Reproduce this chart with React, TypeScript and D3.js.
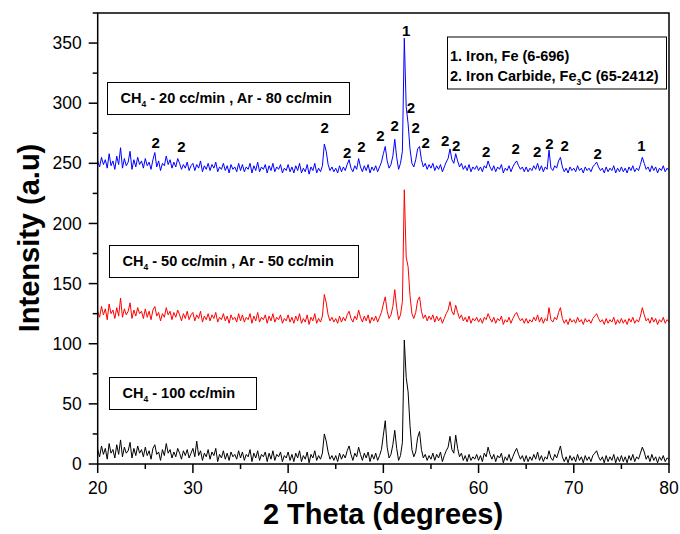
import * as d3 from "d3";

// diffraction scan, sampled every 0.2 degrees from 20 to 80
const THETA_START = 20;
const THETA_STEP = 0.2;

const blueCounts = [
  252, 247, 255, 249, 253, 246, 258, 248, 252, 245, 256, 249, 263, 246, 254, 248, 251, 260, 245, 253, 247, 255, 249, 252, 246,
  254, 248, 251, 245, 253, 259, 247, 252, 244, 250, 248, 256, 249, 253, 246, 251, 247, 254, 250, 245, 249, 246, 251, 244, 248,
  250, 244, 249, 246, 252, 243, 248, 245, 250, 244, 249, 246, 251, 243, 247, 245, 250, 244, 248, 242, 249, 245, 247, 243, 250,
  244, 249, 243, 247, 245, 250, 242, 248, 244, 251, 243, 247, 245, 249, 242, 248, 244, 250, 243, 247, 245, 249, 242, 246, 244,
  249, 243, 247, 242, 248, 244, 250, 242, 246, 243, 249, 241, 247, 244, 250, 242, 246, 243, 248, 266, 260, 249, 244, 247, 243,
  246, 242, 248, 243, 247, 244, 249, 253, 246, 243, 248, 245, 254, 247, 243, 248, 244, 249, 242, 247, 244, 248, 243, 247, 251,
  258, 264, 252, 246, 249, 256, 270, 255, 245, 250, 260, 354, 297, 283, 262, 250, 247, 253, 262, 264, 253, 247, 250, 245, 249,
  246, 250, 244, 248, 245, 249, 243, 247, 251, 254, 262, 253, 250, 258, 252, 247, 250, 245, 248, 244, 249, 243, 247, 245, 248,
  244, 247, 243, 248, 246, 252, 247, 244, 248, 243, 247, 245, 249, 242, 246, 244, 248, 243, 247, 250, 252, 248, 245, 247, 243,
  247, 243, 246, 244, 248, 245, 250, 244, 248, 243, 247, 245, 261, 246, 244, 248, 246, 252, 255, 247, 243, 246, 242, 247, 244,
  246, 243, 248, 244, 246, 242, 247, 244, 246, 243, 247, 249, 251, 247, 244, 246, 242, 247, 243, 246, 244, 248, 242, 246, 243,
  247, 243, 246, 242, 247, 244, 248, 243, 246, 244, 249, 255, 250, 245, 247, 243, 248, 244, 247, 242, 246, 244, 248, 243, 246,
  244,
];

const redCounts = [
  127, 122, 131, 124, 129, 120, 133, 125, 128, 121, 130, 123, 138, 122, 129, 124, 127, 134, 121, 128, 123, 130, 125, 127, 121,
  129, 122, 127, 120, 128, 131, 123, 126, 119, 125, 122, 130, 124, 127, 120, 126, 122, 128, 124, 119, 125, 121, 127, 120, 124,
  126, 119, 124, 121, 127, 118, 123, 120, 125, 119, 124, 121, 126, 118, 122, 120, 125, 119, 123, 117, 124, 120, 122, 118, 125,
  119, 124, 118, 122, 120, 125, 117, 123, 119, 126, 118, 122, 120, 124, 117, 123, 119, 125, 118, 122, 120, 124, 117, 121, 119,
  124, 118, 122, 117, 123, 119, 125, 117, 121, 118, 124, 116, 122, 119, 125, 117, 121, 118, 123, 141, 134, 124, 119, 122, 118,
  121, 117, 123, 118, 122, 119, 124, 127, 121, 118, 123, 120, 128, 122, 118, 123, 119, 124, 117, 122, 119, 123, 118, 122, 126,
  133, 139, 127, 121, 124, 131, 145, 130, 120, 124, 135, 228, 172, 164, 140, 125, 121, 126, 136, 139, 127, 121, 124, 119, 123,
  120, 124, 118, 123, 119, 122, 117, 121, 125, 128, 135, 127, 124, 132, 126, 121, 124, 119, 122, 118, 123, 117, 121, 119, 122,
  118, 121, 117, 122, 120, 125, 121, 118, 122, 117, 121, 119, 123, 116, 120, 118, 122, 117, 121, 124, 126, 122, 119, 121, 117,
  121, 117, 120, 118, 122, 119, 124, 118, 122, 117, 121, 119, 130, 120, 118, 122, 120, 126, 130, 121, 117, 120, 116, 121, 118,
  120, 117, 122, 118, 120, 116, 121, 118, 120, 117, 121, 123, 125, 121, 118, 120, 116, 121, 117, 120, 118, 122, 116, 120, 117,
  121, 117, 120, 116, 121, 118, 122, 117, 120, 118, 123, 130, 124, 119, 121, 117, 122, 118, 121, 116, 120, 118, 122, 117, 120,
  118,
];

const blackCounts = [
  12, 6, 15, 8, 13, 4, 17, 9, 12, 5, 16, 8, 20, 6, 14, 9, 11, 18, 5, 13, 7, 15, 9, 12, 6,
  14, 7, 11, 4, 13, 16, 8, 10, 3, 12, 7, 17, 9, 12, 5, 10, 6, 13, 9, 4, 11, 7, 12, 5, 9,
  13, 6, 19, 7, 11, 3, 9, 6, 12, 4, 10, 7, 13, 2, 8, 5, 11, 4, 9, 3, 10, 6, 8, 4, 11,
  5, 10, 3, 8, 6, 12, 2, 9, 5, 11, 3, 8, 6, 10, 2, 9, 4, 11, 3, 8, 6, 10, 2, 7, 5,
  10, 3, 8, 2, 9, 5, 11, 2, 7, 4, 10, 1, 8, 5, 11, 3, 7, 4, 9, 25, 19, 10, 4, 7, 3,
  7, 2, 9, 4, 8, 5, 11, 15, 8, 3, 9, 6, 14, 8, 3, 9, 5, 10, 2, 8, 4, 9, 3, 7, 12,
  24, 36, 14, 5, 8, 16, 28, 13, 3, 7, 18, 103, 72, 60, 32, 12, 6, 10, 22, 27, 12, 5, 8, 3, 7,
  4, 9, 3, 8, 5, 10, 2, 7, 11, 14, 23, 12, 9, 24, 13, 6, 9, 3, 7, 2, 8, 3, 6, 4, 8,
  3, 7, 2, 9, 6, 14, 8, 4, 8, 2, 7, 5, 9, 1, 6, 3, 8, 2, 6, 10, 13, 8, 4, 7, 2,
  7, 2, 6, 3, 8, 4, 10, 3, 7, 2, 6, 4, 11, 5, 3, 8, 5, 10, 15, 6, 2, 6, 1, 7, 3,
  6, 2, 8, 3, 6, 1, 7, 3, 6, 2, 7, 9, 11, 6, 3, 6, 1, 7, 2, 6, 3, 8, 1, 6, 2,
  7, 2, 6, 1, 7, 3, 8, 2, 6, 4, 9, 14, 10, 4, 7, 2, 8, 3, 6, 1, 6, 3, 7, 2, 5,
  4,
];

const xTicks = [20, 30, 40, 50, 60, 70, 80];
const xMinorTicks = [25, 35, 45, 55, 65, 75];
const yTicks = [0, 50, 100, 150, 200, 250, 300, 350];
const yMinorTicks = [25, 75, 125, 175, 225, 275, 325, 375];

// phase markers on the top scan: 1 = Fe, 2 = Fe3C
const peakLabels = [
  { theta: 26.1, intensity: 267, text: "2" },
  { theta: 28.8, intensity: 264, text: "2" },
  { theta: 43.85, intensity: 280, text: "2" },
  { theta: 46.2, intensity: 259, text: "2" },
  { theta: 47.7, intensity: 264, text: "2" },
  { theta: 49.7, intensity: 273, text: "2" },
  { theta: 51.2, intensity: 281, text: "2" },
  { theta: 52.4, intensity: 360, text: "1" },
  { theta: 52.9, intensity: 296, text: "2" },
  { theta: 53.4, intensity: 280, text: "2" },
  { theta: 54.45, intensity: 267, text: "2" },
  { theta: 56.5, intensity: 269, text: "2" },
  { theta: 57.65, intensity: 265, text: "2" },
  { theta: 60.8, intensity: 260, text: "2" },
  { theta: 63.9, intensity: 262, text: "2" },
  { theta: 66.15, intensity: 260, text: "2" },
  { theta: 67.45, intensity: 266, text: "2" },
  { theta: 69.05, intensity: 265, text: "2" },
  { theta: 72.5, intensity: 258, text: "2" },
  { theta: 77.1, intensity: 265, text: "1" },
];

const series = [
  { key: "ar80", values: blueCounts, color: "#0000ff" },
  { key: "ar50", values: redCounts, color: "#ff0000" },
  { key: "ch4", values: blackCounts, color: "#000000" },
];

const W = 680;
const H = 534;
const FONT = "Arial, 'Liberation Sans', sans-serif";

const x = d3.scaleLinear().domain([20, 80]).range([97.7, 669]);
const y = d3.scaleLinear().domain([0, 375]).range([464, 13]);

const line = d3
  .line<number>()
  .x((_, i) => x(THETA_START + i * THETA_STEP))
  .y((d) => y(d));

function Sub({ children }: { children: string }) {
  return (
    <tspan fontSize={8.5} dy={4}>
      {children}
    </tspan>
  );
}

function ConditionBox({
  x0,
  y0,
  w,
  rate,
  ar,
}: {
  x0: number;
  y0: number;
  w: number;
  rate: string;
  ar?: string;
}) {
  return (
    <g>
      <rect x={x0} y={y0} width={w} height={32} fill="#fff" stroke="#000" strokeWidth={1} />
      <text x={x0 + 13} y={y0 + 20} fontSize={14.5} fontWeight="bold" fontFamily={FONT}>
        CH<Sub>4</Sub>
        <tspan dy={-4}>{` - ${rate} cc/min${ar ? ` , Ar - ${ar} cc/min` : ""}`}</tspan>
      </text>
    </g>
  );
}

export default function App() {
  const [left, right] = x.range();
  const [bottom, top] = y.range();
  return (
    <svg
      width={W}
      height={H}
      style={{ position: "absolute", left: 0, top: 0, background: "#fff" }}
      fontFamily={FONT}
    >
      <defs>
        <clipPath id="plot">
          <rect x={left} y={top} width={right - left} height={bottom - top} />
        </clipPath>
      </defs>

      <g clipPath="url(#plot)">
        {series.map((s) => (
          <path
            key={s.key}
            d={line(s.values) ?? ""}
            fill="none"
            stroke={s.color}
            strokeWidth={1}
            strokeLinejoin="round"
          />
        ))}
      </g>

      {/* frame */}
      <rect x={left} y={top} width={right - left} height={bottom - top} fill="none" stroke="#000" strokeWidth={1.5} />

      {/* x axis */}
      {xTicks.map((t) => (
        <g key={`xt${t}`}>
          <line x1={x(t)} x2={x(t)} y1={bottom} y2={bottom + 9} stroke="#000" strokeWidth={1.5} />
          <text x={x(t)} y={bottom + 30} textAnchor="middle" fontSize={17.5}>
            {t}
          </text>
        </g>
      ))}
      {xMinorTicks.map((t) => (
        <line key={`xm${t}`} x1={x(t)} x2={x(t)} y1={bottom} y2={bottom + 5} stroke="#000" strokeWidth={1.5} />
      ))}

      {/* y axis */}
      {yTicks.map((t) => (
        <g key={`yt${t}`}>
          <line x1={left - 9} x2={left} y1={y(t)} y2={y(t)} stroke="#000" strokeWidth={1.5} />
          <text x={left - 16} y={y(t)} dy="0.35em" textAnchor="end" fontSize={17.5}>
            {t}
          </text>
        </g>
      ))}
      {yMinorTicks.map((t) => (
        <line key={`ym${t}`} x1={left - 5} x2={left} y1={y(t)} y2={y(t)} stroke="#000" strokeWidth={1.5} />
      ))}

      {/* axis titles */}
      <text x={383} y={524} textAnchor="middle" fontSize={29} fontWeight="bold">
        2 Theta (degrees)
      </text>
      <text
        transform={`translate(39,238) rotate(-90)`}
        textAnchor="middle"
        fontSize={29}
        fontWeight="bold"
      >
        Intensity (a.u)
      </text>

      {/* peak markers */}
      {peakLabels.map((p, i) => (
        <text
          key={`pk${i}`}
          x={x(p.theta)}
          y={y(p.intensity)}
          dy="0.36em"
          textAnchor="middle"
          fontSize={15}
          fontWeight="bold"
        >
          {p.text}
        </text>
      ))}

      <ConditionBox x0={107.5} y0={82.5} w={242} rate="20" ar="80" />
      <ConditionBox x0={109.5} y0={245.5} w={249} rate="50" ar="50" />
      <ConditionBox x0={109.5} y0={377.5} w={147} rate="100" />

      {/* phase key */}
      <rect x={447.5} y={37} width={219} height={52} fill="#fff" stroke="#000" strokeWidth={1} />
      <text x={450} y={61} fontSize={14.5} fontWeight="bold">
        1. Iron, Fe (6-696)
      </text>
      <text x={450} y={80.5} fontSize={14.5} fontWeight="bold">
        2. Iron Carbide, Fe<Sub>3</Sub>
        <tspan dy={-4}>C (65-2412)</tspan>
      </text>
    </svg>
  );
}
